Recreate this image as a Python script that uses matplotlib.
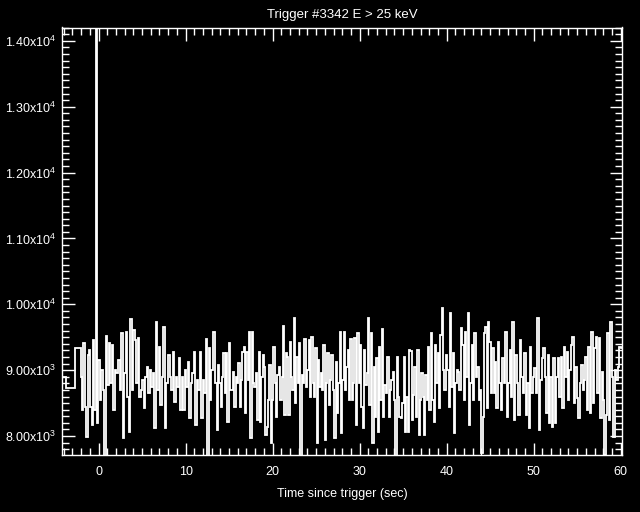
import numpy as np
import matplotlib
matplotlib.use("Agg")
import matplotlib.pyplot as plt
from matplotlib.ticker import MultipleLocator, FuncFormatter

plt.rcParams['font.family'] = ['Liberation Sans', 'DejaVu Sans']
plt.rcParams['mathtext.fontset'] = 'custom'
plt.rcParams['mathtext.rm'] = 'Liberation Sans'

# Pre-trigger 1.024 s style bins (edges in sec, counts/sec)
pre_edges = [-4.3, -3.70, -2.67, -2.06]
pre_counts = [8900, 8728, 9335]

# Fine-resolution data, in four time segments
# (plus the single spike bin right at the trigger)
seg_a1 = [8901, 8395, 9417, 8445, 7990, 9230, 9305, 8445, 8167, 9457, 8395]
spike = [15000]
seg_a2 = [8192, 9154, 8546, 9000, 8700, 7700, 9518, 8774, 9407, 8800,
          9381, 8395, 9000, 8960, 9154, 8700, 9558, 7965, 8950, 9584,
          8600, 8066, 9771, 8700, 9609, 9457, 8800, 9483, 8600, 8700,
          8850, 8420, 8900, 9050, 8650, 9000, 8749, 8950, 8116, 9736,
          8700, 9356, 8471, 8900, 9660, 8116, 8800, 9230, 8900, 8700,
          9280, 8521, 8900, 8750, 9179, 8395, 8900, 8395, 9002, 8750,
          9128, 8268, 8800, 8950, 9280, 8167, 8850, 8700, 9280, 8268,
          8850, 8650]
seg_b = [9467, 7700, 9331, 8546, 9000, 9584, 9584, 8800, 8091, 9078,
         8800, 8445, 8900, 9255, 8648, 9255, 8218, 9407, 8700, 8698,
         8977, 8445, 8900, 8799, 9103, 8445, 8850, 9280, 9356, 8344,
         9280, 8850, 9584, 7965, 9584, 8800, 8749, 8951, 8243, 9280,
         8218, 8900, 9230, 9052, 8015, 8142, 8546, 9078, 7889, 8546,
         9356, 8800, 8293, 8926, 9052, 8546, 8900, 9670, 8319, 9255,
         9204, 8319, 9432, 8900, 8700, 9786, 8496, 9204, 8800, 9407,
         7700, 8926, 8800, 9467, 8749, 9000, 9457, 8597, 9508, 8800,
         8597, 9331, 7889, 9154, 8749, 8950, 8700, 9381, 7939, 8800,
         9255, 8471, 8850, 9230, 8700, 7965, 9128, 8344, 8800, 9584,
         8040, 8850, 9584, 8700, 9052, 9305, 8546]
seg_c = [9467, 8546, 8800, 9483, 8167, 9558, 8800, 9381, 8445, 8116,
         9305, 8774, 8950, 9786, 8471, 9558, 7889, 9052, 8293, 9179,
         8066, 9356, 8546, 9619, 8293, 8774, 8650, 9204, 8293, 8698,
         8850, 8977, 8546, 7700, 9204, 8600, 8293, 8268, 8500, 9204,
         8066, 8600, 8066, 9305, 9295, 8243, 8622, 9052, 8293, 9305,
         8015, 8546, 8951, 8600, 8015, 8926, 8546, 9356, 8395, 9558,
         8546, 8218, 9381, 8800, 9255, 8420, 9533, 9938, 9002, 8700,
         9230, 9002, 8445, 9862, 8749, 9255, 8040, 8800, 9002, 8977,
         8698, 9634, 9381, 8546, 9584, 8900, 9862, 8167, 8800, 9381,
         8546, 9558, 8900, 9052, 8546, 8700, 7737, 8293, 9558, 9660,
         8420, 9736, 9432, 8648, 9331, 8648]
seg_d = [9128, 8420, 9432, 8800, 8395, 9179, 8800, 9584, 8293, 8800,
         9305, 8597, 9736, 8243, 9230, 8800, 8319, 9457, 8900, 8648,
         9255, 8319, 8800, 8116, 9356, 8648, 8901, 9027, 8648, 9786,
         8091, 8850, 9179, 9331, 8901, 8344, 9230, 8192, 8901, 8142,
         9179, 8192, 8901, 9179, 8597, 9204, 8420, 9356, 8901, 9280,
         8546, 9002, 9381, 9508, 8496, 9052, 8572, 8268, 8800, 9078,
         8700, 8850, 9204, 8395, 9356, 8344, 9584, 8496, 9331, 9508,
         8648, 9483, 8268, 8977, 8546, 7712, 8319, 9558, 8243, 9736,
         8901, 7990, 9002, 8850, 9052, 9356, 9331]

segments = [seg_a1, spike, seg_a2, seg_b, seg_c, seg_d]
seg_bounds = [-2.06, -0.32, -0.20, 12.33, 28.94, 45.55, 60.15]

title = "Trigger #3342 E > 25 keV"
xlabel = "Time since trigger (sec)"
ylabel = "Counts/sec"

# build bin edges
edges = list(pre_edges)
counts = list(pre_counts)
for i, seg in enumerate(segments):
    e = np.linspace(seg_bounds[i], seg_bounds[i + 1], len(seg) + 1)
    edges.extend(e[1:])
    counts.extend(seg)

fig = plt.figure(figsize=(6.4, 5.12), dpi=100, facecolor="black")
ax = fig.add_axes([62 / 640, 1 - 455 / 512, 560 / 640, 427.5 / 512])
ax.set_facecolor("black")

ax.stairs(counts, edges, color="white", lw=1.3, baseline=None)

ax.set_xlim(-4.2, 60.15)
ax.set_ylim(7712, 14203)

for s in ax.spines.values():
    s.set_color("white")
    s.set_linewidth(1.0)

ax.xaxis.set_major_locator(MultipleLocator(10))
ax.xaxis.set_minor_locator(MultipleLocator(1))
ax.yaxis.set_major_locator(MultipleLocator(1000))
ax.yaxis.set_minor_locator(MultipleLocator(100))


def yfmt(v, pos):
    e = int(np.floor(np.log10(v)))
    m = v / 10 ** e
    return "%.2fx10$^{%d}$" % (m, e)


ax.yaxis.set_major_formatter(FuncFormatter(yfmt))

ax.tick_params(which="both", direction="in", colors="white",
               top=True, right=True, labelsize=9, width=1.0)
ax.tick_params(which="major", length=9, pad=4)
ax.tick_params(which="minor", length=5)
ax.tick_params(axis="x", which="major", pad=8)

ax.set_title(title, color="white", fontsize=9.5, pad=7)
ax.set_xlabel(xlabel, color="white", fontsize=9, labelpad=7)
fig.text(-0.012, 0.53, ylabel, rotation=90, color="white", fontsize=9,
         ha="center", va="center")

fig.savefig("out.png", dpi=100, facecolor="black")
